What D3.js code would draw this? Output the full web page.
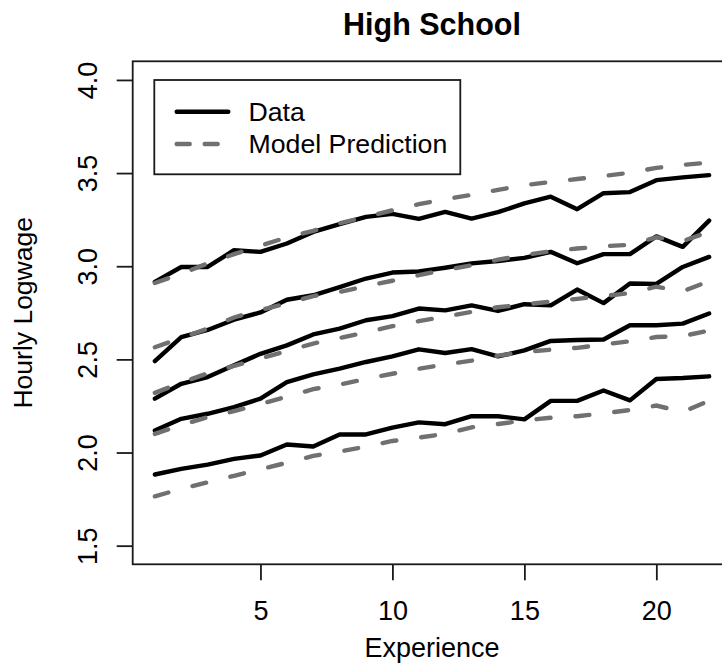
<!DOCTYPE html>
<html>
<head>
<meta charset="utf-8">
<script src="https://cdn.jsdelivr.net/npm/d3@7"></script>
<style>
  body { margin: 0; background: #fff; }
  text { font-family: "Liberation Sans", Arial, Helvetica, sans-serif; fill: #000; }
</style>
</head>
<body>
<div id="chart"></div>
<script>
var w = 722;
var h = 665;

// experience (years) on the x axis
var experience = [1, 2, 3, 4, 5, 6, 7, 8, 9, 10, 11, 12, 13, 14, 15, 16, 17, 18, 19, 20, 21, 22];

// observed mean log wages, one array per group (top to bottom)
var data1 = [2.916, 2.996, 2.996, 3.086, 3.077, 3.122, 3.184, 3.226, 3.265, 3.281, 3.254, 3.292, 3.256, 3.290, 3.337, 3.373, 3.306, 3.392, 3.398, 3.462, 3.477, 3.489];
var data2 = [2.491, 2.620, 2.658, 2.713, 2.752, 2.820, 2.844, 2.888, 2.934, 2.966, 2.972, 2.992, 3.015, 3.028, 3.045, 3.077, 3.016, 3.065, 3.065, 3.160, 3.104, 3.245];
var data3 = [2.289, 2.369, 2.405, 2.468, 2.530, 2.575, 2.634, 2.665, 2.710, 2.732, 2.773, 2.763, 2.790, 2.760, 2.796, 2.790, 2.875, 2.802, 2.907, 2.905, 2.996, 3.050];
var data4 = [2.118, 2.181, 2.208, 2.244, 2.289, 2.378, 2.419, 2.450, 2.486, 2.516, 2.554, 2.534, 2.555, 2.516, 2.548, 2.599, 2.604, 2.607, 2.683, 2.683, 2.692, 2.746];
var data5 = [1.882, 1.912, 1.935, 1.966, 1.984, 2.043, 2.032, 2.097, 2.097, 2.134, 2.162, 2.152, 2.195, 2.195, 2.178, 2.277, 2.277, 2.333, 2.280, 2.395, 2.400, 2.409];

// model predictions
var model1 = [2.910, 2.960, 3.015, 3.065, 3.110, 3.155, 3.190, 3.230, 3.265, 3.300, 3.333, 3.360, 3.383, 3.410, 3.435, 3.452, 3.468, 3.484, 3.502, 3.528, 3.544, 3.556];
var model2 = [2.565, 2.615, 2.665, 2.725, 2.765, 2.800, 2.840, 2.862, 2.893, 2.922, 2.952, 2.980, 3.005, 3.035, 3.060, 3.080, 3.095, 3.107, 3.115, 3.155, 3.135, 3.185];
var model3 = [2.320, 2.375, 2.425, 2.465, 2.505, 2.545, 2.585, 2.615, 2.645, 2.678, 2.705, 2.730, 2.755, 2.780, 2.795, 2.810, 2.825, 2.840, 2.856, 2.890, 2.865, 2.920];
var model4 = [2.100, 2.148, 2.190, 2.222, 2.260, 2.300, 2.340, 2.365, 2.395, 2.423, 2.450, 2.473, 2.493, 2.520, 2.540, 2.552, 2.562, 2.580, 2.597, 2.620, 2.625, 2.655];
var model5 = [1.765, 1.805, 1.840, 1.875, 1.910, 1.945, 1.982, 2.005, 2.032, 2.062, 2.080, 2.100, 2.135, 2.153, 2.172, 2.187, 2.195, 2.210, 2.228, 2.252, 2.218, 2.278];

var xTicks = [5, 10, 15, 20];
var yTicks = [1.5, 2.0, 2.5, 3.0, 3.5, 4.0];
var legendLabels = ["Data", "Model Prediction"];

var dataSeries = [data1, data2, data3, data4, data5];
var modelSeries = [model1, model2, model3, model4, model5];

// plot region (right edge falls just outside the picture)
var plotLeft = 132.7, plotRight = 731.3, plotTop = 61.3, plotBottom = 564.3;

var x = d3.scaleLinear().domain([0.16, 22.84]).range([plotLeft, plotRight]);
var y = d3.scaleLinear().domain([1.4, 4.1]).range([plotBottom, plotTop]);

var svg = d3.select("#chart").append("svg")
            .attr("width", w)
            .attr("height", h);

var line = d3.line()
             .x(function(d, i) { return x(experience[i]); })
             .y(function(d) { return y(d); });

svg.append("rect")
   .attr("x", plotLeft)
   .attr("y", plotTop)
   .attr("width", plotRight - plotLeft)
   .attr("height", plotBottom - plotTop)
   .attr("fill", "none")
   .attr("stroke", "#1a1a1a")
   .attr("stroke-width", 1.8);

// x axis
var xAxis = d3.axisBottom(x)
              .tickValues(xTicks)
              .tickSize(16)
              .tickFormat(d3.format("d"));

var gx = svg.append("g")
            .attr("transform", "translate(0," + plotBottom + ")")
            .call(xAxis);
gx.select(".domain").remove();
gx.selectAll("line").attr("stroke", "#1a1a1a").attr("stroke-width", 1.8);
gx.selectAll("text")
  .attr("y", 55.7)
  .attr("dy", null)
  .attr("fill", "#000")
  .style("font-size", "27px");

// y axis, labels rotated like R's default
var yAxis = d3.axisLeft(y)
              .tickValues(yTicks)
              .tickSize(16)
              .tickFormat(d3.format(".1f"));

var gy = svg.append("g")
            .attr("transform", "translate(" + plotLeft + ",0)")
            .call(yAxis);
gy.select(".domain").remove();
gy.selectAll("line").attr("stroke", "#1a1a1a").attr("stroke-width", 1.8);
gy.selectAll("text")
  .attr("x", null)
  .attr("dy", null)
  .attr("transform", "translate(-36,0) rotate(-90)")
  .attr("text-anchor", "middle")
  .attr("fill", "#000")
  .style("font-size", "27px");

// data lines
svg.selectAll(".data-line")
   .data(dataSeries)
   .enter()
   .append("path")
   .attr("class", "data-line")
   .attr("d", line)
   .attr("fill", "none")
   .attr("stroke", "#000")
   .attr("stroke-width", 4.4)
   .attr("stroke-linejoin", "round")
   .attr("stroke-linecap", "round");

// model prediction lines
svg.selectAll(".model-line")
   .data(modelSeries)
   .enter()
   .append("path")
   .attr("class", "model-line")
   .attr("d", line)
   .attr("fill", "none")
   .attr("stroke", "#707070")
   .attr("stroke-width", 4.4)
   .attr("stroke-dasharray", "14,25")
   .attr("stroke-linecap", "round");

// title and axis titles
svg.append("text")
   .attr("x", x(11.5))
   .attr("y", 35)
   .attr("text-anchor", "middle")
   .style("font-size", "30.5px")
   .style("font-weight", "bold")
   .text("High School");

svg.append("text")
   .attr("x", x(11.5))
   .attr("y", 656.7)
   .attr("text-anchor", "middle")
   .style("font-size", "27px")
   .text("Experience");

svg.append("text")
   .attr("transform", "translate(32," + ((plotTop + plotBottom) / 2) + ") rotate(-90)")
   .attr("text-anchor", "middle")
   .style("font-size", "26.5px")
   .text("Hourly Logwage");

// legend
var legend = svg.append("g");
legend.append("rect")
      .attr("x", 154.3)
      .attr("y", 80)
      .attr("width", 306)
      .attr("height", 94.3)
      .attr("fill", "#fff")
      .attr("stroke", "#1a1a1a")
      .attr("stroke-width", 1.8);

legend.append("line")
      .attr("x1", 176.7).attr("x2", 228.3)
      .attr("y1", 111.7).attr("y2", 111.7)
      .attr("stroke", "#000")
      .attr("stroke-width", 4.4)
      .attr("stroke-linecap", "round");

legend.append("line")
      .attr("x1", 176.7).attr("x2", 218)
      .attr("y1", 144).attr("y2", 144)
      .attr("stroke", "#707070")
      .attr("stroke-width", 4.4)
      .attr("stroke-dasharray", "13,15")
      .attr("stroke-linecap", "round");

legend.selectAll("text")
      .data(legendLabels)
      .enter()
      .append("text")
      .attr("x", 248.5)
      .attr("y", function(d, i) { return i == 0 ? 120.7 : 153.3; })
      .style("font-size", "26.7px")
      .text(function(d) { return d; });
</script>
</body>
</html>
